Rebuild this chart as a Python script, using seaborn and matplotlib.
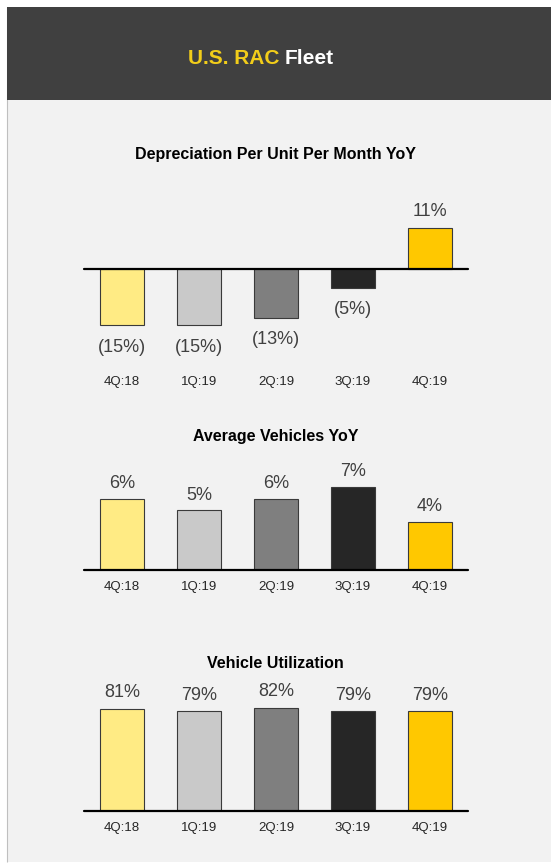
import numpy as np
import pandas as pd
import matplotlib
matplotlib.use("Agg")
import matplotlib.pyplot as plt
import seaborn as sns
from matplotlib.patches import Rectangle

# chart data
quarters = ["4Q:18", "1Q:19", "2Q:19", "3Q:19", "4Q:19"]
depreciation_yoy = [-15, -15, -13, -5, 11]
avg_vehicles_yoy = [6, 5, 6, 7, 4]
utilization = [81, 79, 82, 79, 79]
bar_colors = ["#FFEB84", "#C9C9C9", "#7F7F7F", "#262626", "#FFC800"]

sns.set_theme(style="white")
plt.rcParams["font.family"] = ["Liberation Sans Narrow", "Liberation Sans", "DejaVu Sans"]

W, H = 551, 867
fig = plt.figure(figsize=(W / 100, H / 100), dpi=100)
fig.patch.set_facecolor("white")


def fx(px):
    return px / W


def fy(py):
    return 1 - py / H


# background panel and header band (kept under the axes)
fig.patches.append(Rectangle((fx(7), fy(862)), 1 - fx(7), fy(100) - fy(862),
                             transform=fig.transFigure, facecolor="#F2F2F2",
                             edgecolor="none", zorder=-3))
fig.patches.append(Rectangle((fx(7), fy(862)), 0, fy(7) - fy(862),
                             transform=fig.transFigure, facecolor="none",
                             edgecolor="#BFBFBF", lw=0.8, zorder=-2))
fig.patches.append(Rectangle((fx(7), fy(100)), 1 - fx(7), fy(7) - fy(100),
                             transform=fig.transFigure, facecolor="#404040",
                             edgecolor="none", zorder=-2))

fig.text(fx(279), fy(58), "U.S. RAC", color="#F2CD1A", fontsize=15,
         fontweight="bold", ha="right", va="center")
fig.text(fx(285), fy(58), "Fleet", color="white", fontsize=15,
         fontweight="bold", ha="left", va="center")


def make_panel(top_px, bottom_px, title, title_y, vals, ylim, pad, neg_off, pos_off):
    ax = fig.add_axes([fx(83.5), fy(bottom_px), fx(468.5) - fx(83.5), fy(top_px) - fy(bottom_px)])
    ax.set_zorder(2)
    ax.set_facecolor("none")
    df = pd.DataFrame({"quarter": quarters, "value": vals})
    sns.barplot(data=df, x="quarter", y="value", hue="quarter", palette=bar_colors,
                saturation=1, legend=False, width=0.56, edgecolor="#3A3A3A",
                linewidth=0.8, ax=ax)
    ax.set_xlim(-0.5, 4.5)
    ax.set_ylim(*ylim)
    ax.axhline(0, color="black", lw=1.6, clip_on=False, zorder=5)
    for s in ax.spines.values():
        s.set_visible(False)
    ax.set_yticks([])
    ax.set_xlabel("")
    ax.set_ylabel("")
    ax.tick_params(axis="x", length=0, pad=pad, labelsize=9.5, labelcolor="#262626")
    for i, v in enumerate(vals):
        off = neg_off if v < 0 else pos_off
        label = f"({abs(v)}%)" if v < 0 else f"{v}%"
        ax.annotate(label, (i, v), xytext=(0, off), textcoords="offset points",
                    ha="center", va="center", fontsize=13, color="#404040",
                    annotation_clip=False)
    fig.text(0.5, fy(title_y), title, ha="center", va="center", fontsize=11.5,
             fontweight="bold", color="black")
    return ax


make_panel(224, 329, "Depreciation Per Unit Per Month YoY", 155, depreciation_yoy,
           (-16, 12), 34, -16, 12)
make_panel(475, 569.5, "Average Vehicles YoY", 437, avg_vehicles_yoy,
           (0, 8), 8, -16, 11)
make_panel(685, 810.5, "Vehicle Utilization", 663, utilization,
           (0, 100), 8, -16, 11.5)

fig.savefig("out.png", dpi=100, facecolor=fig.get_facecolor())
